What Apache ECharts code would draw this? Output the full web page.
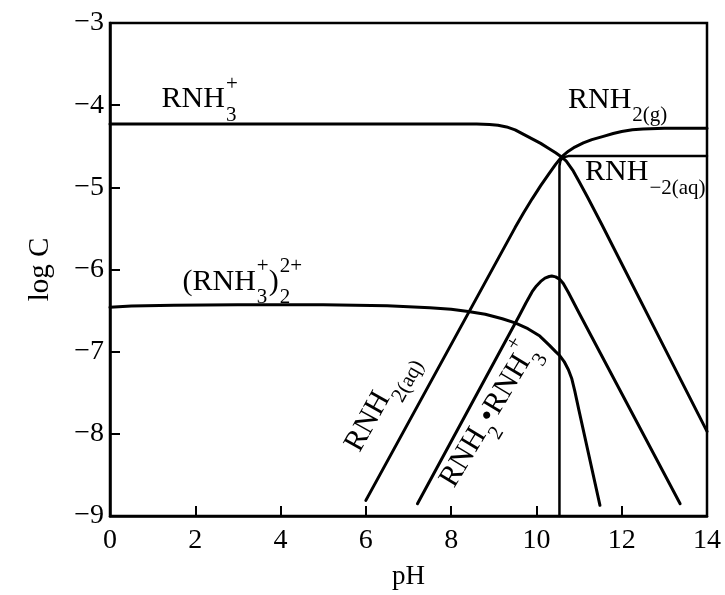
<!DOCTYPE html>
<html><head><meta charset="utf-8">
<script src="https://cdn.jsdelivr.net/npm/echarts@6/dist/echarts.min.js"></script>
<style>html,body{margin:0;padding:0;background:#fff}#c{width:725px;height:595px}</style>
</head><body><div id="c"></div>
<script>
// ---- axis ticks ----
const xTickValues = [0, 2, 4, 6, 8, 10, 12, 14];
const yTickValues = [-9, -8, -7, -6, -5, -4, -3];

// ---- curves (pH, log C) ----
const rnh3PH   = [0, 8.6, 8.9, 9.1, 9.3, 9.5, 9.7, 9.9, 10.1, 10.3, 10.45, 10.59, 10.7, 10.85, 11.0, 11.2, 11.53, 12.0, 13.0, 14.0];
const rnh3LogC = [-4.23, -4.23, -4.235, -4.245, -4.265, -4.30, -4.355, -4.41, -4.465, -4.53, -4.58, -4.63, -4.68, -4.79, -4.93, -5.12, -5.45, -5.93, -6.95, -7.97];

const rnh2PH   = [6.0, 9.5, 9.7, 9.9, 10.1, 10.3, 10.45, 10.59, 10.75, 10.9, 11.1, 11.3, 11.57, 11.8, 12.0, 12.25, 12.5, 13.0, 14.0];
const rnh2LogC = [-8.81, -5.49, -5.31, -5.14, -4.98, -4.83, -4.72, -4.63, -4.56, -4.51, -4.46, -4.42, -4.38, -4.345, -4.32, -4.30, -4.29, -4.28, -4.28];

const dimerPH   = [0, 0.5, 1.5, 3, 5, 6.5, 7.5, 8.0, 8.4, 8.8, 9.2, 9.5, 9.8, 10.08, 10.3, 10.45, 10.55, 10.65, 10.75, 10.83, 10.9, 11.0, 11.49];
const dimerLogC = [-6.46, -6.445, -6.435, -6.43, -6.43, -6.44, -6.465, -6.485, -6.51, -6.545, -6.60, -6.65, -6.72, -6.81, -6.92, -7.0, -7.05, -7.12, -7.22, -7.33, -7.48, -7.72, -8.87];

const complexPH   = [7.21, 9.6, 9.75, 9.9, 10.0, 10.1, 10.2, 10.3, 10.36, 10.45, 10.55, 10.63, 10.75, 11.0, 12.0, 13.37];
const complexLogC = [-8.85, -6.56, -6.41, -6.27, -6.20, -6.145, -6.105, -6.085, -6.08, -6.09, -6.12, -6.17, -6.28, -6.53, -7.51, -8.85];

const precipPH   = [10.54, 10.54, 10.56, 10.6, 10.66, 10.75, 14.0];
const precipLogC = [-9.0, -4.74, -4.68, -4.65, -4.63, -4.62, -4.62];

// ---- annotations ----
// segments: [text,'n'] = normal; [sub, sup] = stacked subscript / superscript
const labelText = [
  [['RNH', 'n'], ['3', '+']],
  [['(RNH', 'n'], ['3', '+'], [')', 'n'], ['2', '2+']],
  [['RNH', 'n'], ['2(g)', '']],
  [['RNH', 'n'], ['\u22122(aq)', '']],
  [['RNH', 'n'], ['2(aq)', '']],
  [['RNH', 'n'], ['2', ''], ['\u2022RNH', 'n'], ['3', '+']]
];
const labelPH    = [1.21, 1.70, 10.74, 11.14, 5.69, 7.91];
const labelLogC  = [-3.93, -6.15, -3.94, -4.82, -8.19, -8.62];
const labelAngle = [0, 0, 0, 0, 61, 59];

const FONT = '"Liberation Serif", "Times New Roman", serif';
const zip = (a, b) => a.map((v, i) => [v, b[i]]);

const mctx = document.createElement('canvas').getContext('2d');
function measure(s, size) { mctx.font = size + 'px ' + FONT; return mctx.measureText(s).width; }
function txt(s, x, y, size) {
  return { type: 'text', x: x, y: y,
    style: { text: s, fontSize: size, fontFamily: FONT, fill: '#000', align: 'left', verticalAlign: 'middle' } };
}
function renderLabel(params, api) {
  const i = api.value(3);
  const p = api.coord([api.value(0), api.value(1)]);
  const F = 30, f = 21;
  let x = 0; const children = [];
  labelText[i].forEach(s => {
    if (s[1] === 'n') {
      children.push(txt(s[0], x, 0, F));
      x += measure(s[0], F);
    } else {
      const w1 = measure(s[0], f), w2 = s[1] ? measure(s[1], f) : 0;
      children.push(txt(s[0], x + 1, 0.52 * F, f));
      if (s[1]) children.push(txt(s[1], x + 1, -0.5 * F, f));
      x += Math.max(w1, w2) + 1;
    }
  });
  return { type: 'group', x: p[0], y: p[1], rotation: api.value(2) * Math.PI / 180, children: children };
}

function curve(name, xs, ys, width) {
  return { name: name, type: 'line', data: zip(xs, ys), showSymbol: false, symbol: 'none',
    smooth: false, lineStyle: { color: '#000', width: width, join: 'round', cap: 'round' }, silent: true, z: 3 };
}

const chart = echarts.init(document.getElementById('c'), null, { renderer: 'canvas' });
chart.setOption({
  animation: false,
  backgroundColor: '#fff',
  grid: { left: 110, right: 18, top: 23, bottom: 78, show: true, borderColor: '#000', borderWidth: 2.5, backgroundColor: 'transparent' },
  xAxis: {
    type: 'value', min: xTickValues[0], max: xTickValues[xTickValues.length - 1], interval: 2,
    name: 'pH', nameLocation: 'middle', nameGap: 47,
    nameTextStyle: { color: '#000', fontSize: 27, fontFamily: FONT },
    axisLine: { show: true, lineStyle: { color: '#000', width: 2.5 } },
    axisTick: { show: true, inside: true, length: 10, lineStyle: { color: '#000', width: 2 } },
    axisLabel: { color: '#000', fontSize: 28, fontFamily: FONT, margin: 11 },
    splitLine: { show: false }
  },
  yAxis: {
    type: 'value', min: yTickValues[0], max: yTickValues[yTickValues.length - 1], interval: 1,
    name: 'log C', nameLocation: 'middle', nameGap: 55, nameRotate: 90,
    nameTextStyle: { color: '#000', fontSize: 29, fontFamily: FONT },
    axisLine: { show: true, lineStyle: { color: '#000', width: 2.5 } },
    axisTick: { show: true, inside: true, length: 10, lineStyle: { color: '#000', width: 2 } },
    axisLabel: { color: '#000', fontSize: 28, fontFamily: FONT, margin: 6,
      formatter: v => (v < 0 ? '\u2212' + Math.abs(v) : String(v)) },
    splitLine: { show: false }
  },
  series: [
    curve('RNH3+', rnh3PH, rnh3LogC, 3),
    curve('RNH2', rnh2PH, rnh2LogC, 3),
    curve('(RNH3+)2', dimerPH, dimerLogC, 3),
    curve('RNH2.RNH3+', complexPH, complexLogC, 3),
    curve('RNH2(s)', precipPH, precipLogC, 2.5),
    {
      type: 'custom', name: 'labels', silent: true, z: 5,
      renderItem: renderLabel,
      encode: { x: 0, y: 1 },
      data: labelPH.map((v, i) => [v, labelLogC[i], labelAngle[i], i])
    }
  ]
});
</script>
</body></html>
